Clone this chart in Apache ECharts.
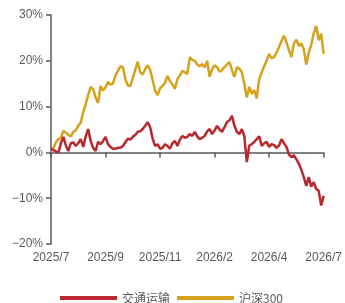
<!DOCTYPE html>
<html>
<head>
<meta charset="utf-8">
<script src="https://cdn.jsdelivr.net/npm/echarts@6/dist/echarts.min.js"></script>
<style>html,body{margin:0;padding:0;background:#fff}#c{width:345px;height:303px}</style>
</head>
<body>
<div id="c"></div>
<script>
var tickLabels = ['2025/7','2025/9','2025/11','2026/2','2026/4','2026/7'];
var yTicks = [-20,-10,0,10,20,30];
var transport = [0.8,0.5,0.2,0.0,2.0,3.4,1.5,0.3,2.0,2.2,1.4,2.0,2.9,1.2,3.5,5.1,2.5,1.0,0.3,2.3,1.8,2.5,3.4,1.8,1.2,0.8,0.8,1.0,1.0,1.4,2.2,3.0,2.8,3.4,3.8,4.5,4.6,5.1,5.8,6.6,5.5,3.0,1.4,1.8,0.8,1.0,1.8,1.4,0.8,2.0,2.5,1.4,2.8,3.6,3.2,3.4,4.0,3.6,4.5,3.5,2.9,3.2,3.6,4.6,5.1,4.0,4.8,5.8,5.0,4.5,5.5,6.6,7.0,8.0,5.8,4.5,4.0,5.1,3.5,-2.1,1.5,1.8,2.3,2.9,3.5,1.4,2.0,2.3,1.2,1.8,1.6,1.0,1.5,2.9,2.0,1.2,-0.5,-1.0,-0.6,-1.5,-2.5,-3.8,-5.4,-7.3,-5.4,-7.5,-6.5,-8.0,-8.4,-11.6,-9.5];
var hs300 = [0.5,1.0,2.2,2.9,3.2,4.7,4.3,3.8,3.5,4.5,4.8,5.8,6.5,8.8,10.5,12.5,14.3,13.8,12.0,10.8,14.5,13.5,14.2,15.4,14.8,15.0,16.8,17.8,18.8,18.6,16.0,14.6,14.5,16.2,18.0,19.8,17.5,17.0,18.2,19.0,18.0,15.8,13.5,12.5,14.0,14.5,15.2,16.7,15.6,14.8,13.9,16.0,16.8,17.8,17.5,17.1,20.8,20.2,20.0,19.2,18.8,19.3,18.5,20.0,16.5,18.2,19.0,18.6,17.6,18.0,18.6,19.2,19.7,18.0,16.5,18.6,18.3,17.5,15.0,12.0,14.3,12.8,13.6,11.8,16.0,17.5,18.8,20.0,21.5,20.6,20.8,21.8,23.0,24.3,25.5,24.0,22.3,20.8,23.8,24.6,23.2,23.8,22.5,19.2,21.8,23.5,26.0,27.6,24.5,25.9,21.5];
var seriesNames = ['交通运输','沪深300'];
var categories = transport.map(function(_, i){ return String(i); });
var step = (categories.length - 1) / (tickLabels.length - 1);

var chart = echarts.init(document.getElementById('c'), null, {renderer:'canvas'});
var axisColor = '#595959';
chart.setOption({
  animation: false,
  textStyle: {fontFamily: 'Liberation Sans, Arial, sans-serif'},
  grid: {left: 51, right: 19, top: 15, bottom: 59},
  legend: {
    top: 292, left: 60, padding: 0,
    itemWidth: 57, itemHeight: 4, itemGap: 7,
    icon: 'rect',
    textStyle: {color: axisColor, fontSize: 12, fontFamily: 'Noto Sans CJK SC, sans-serif'},
    data: seriesNames
  },
  xAxis: {
    type: 'category', data: categories, boundaryGap: false,
    axisLine: {lineStyle: {color: axisColor, width: 1.5}},
    axisTick: {interval: step - 1, length: 5, lineStyle: {color: axisColor, width: 1.5}},
    axisLabel: {interval: step - 1, color: axisColor, fontSize: 12, margin: 8,
      formatter: function(v, i){ return tickLabels[Math.round(i / step)] || ''; }},
    splitLine: {show: false}
  },
  yAxis: {
    type: 'value', min: yTicks[0], max: yTicks[yTicks.length-1], interval: 10,
    axisLine: {show: true, lineStyle: {color: axisColor, width: 1.5}},
    axisTick: {show: true, length: 5, lineStyle: {color: axisColor, width: 1.5}},
    axisLabel: {color: axisColor, fontSize: 12, margin: 8,
      formatter: function(v){ return (v < 0 ? '\u2212' + (-v) : v) + '%'; }},
    splitLine: {show: false}
  },
  series: [
    {name: seriesNames[0], type: 'line', data: transport, showSymbol: false, symbol: 'none',
     lineStyle: {color: '#B8282F', width: 2.5}, itemStyle: {color: '#B8282F'}, z: 3},
    {name: seriesNames[1], type: 'line', data: hs300, showSymbol: false, symbol: 'none',
     lineStyle: {color: '#D4A21C', width: 2.5}, itemStyle: {color: '#D4A21C'}, z: 2}
  ]
});
</script>
</body>
</html>
